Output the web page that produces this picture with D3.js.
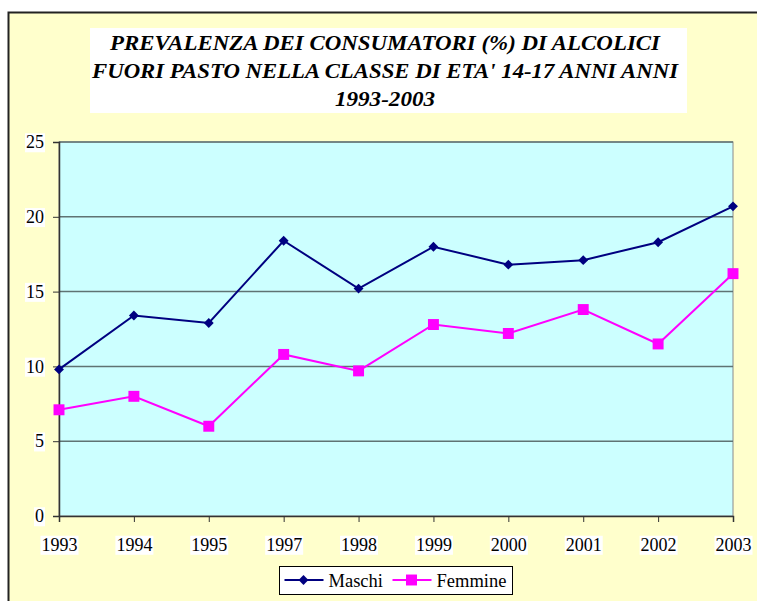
<!DOCTYPE html>
<html>
<head>
<meta charset="utf-8">
<script src="https://cdn.jsdelivr.net/npm/d3@7"></script>
<style>
  body { margin: 0; background: #fff; }
</style>
</head>
<body>
<script>
// Chart data
const years = ["1993", "1994", "1995", "1997", "1998", "1999", "2000", "2001", "2002", "2003"];
const maschi = [9.8, 13.4, 12.9, 18.4, 15.2, 18.0, 16.8, 17.1, 18.3, 20.7];
const femmine = [7.1, 8.0, 6.0, 10.8, 9.7, 12.8, 12.2, 13.8, 11.5, 16.2];
const yTicks = [0, 5, 10, 15, 20, 25];
const titleLines = [
  "PREVALENZA DEI CONSUMATORI (%) DI ALCOLICI",
  "FUORI PASTO NELLA CLASSE DI ETA' 14-17 ANNI ANNI",
  "1993-2003"
];
const titleWidths = [550, 586, 100];

const FONT = "'Liberation Serif', 'Times New Roman', serif";
const W = 757, H = 601;
const margin = { top: 142, left: 59, right: 24, bottom: 85 };
const width = W - margin.left - margin.right;
const height = H - margin.top - margin.bottom;

const svg = d3.select("body").append("svg")
  .attr("width", W)
  .attr("height", H);

// Outer chart area
svg.append("rect")
  .attr("x", 8.5).attr("y", 12.5)
  .attr("width", W).attr("height", H)
  .attr("fill", "#ffffcc")
  .attr("stroke", "#222")
  .attr("stroke-width", 2);

// Title box
svg.append("rect")
  .attr("x", 90).attr("y", 28)
  .attr("width", 597).attr("height", 85)
  .attr("fill", "#fff");

svg.append("g").selectAll("text")
  .data(titleLines)
  .join("text")
  .attr("x", 385)
  .attr("y", (d, i) => 50 + i * 28)
  .attr("text-anchor", "middle")
  .attr("textLength", (d, i) => titleWidths[i])
  .attr("lengthAdjust", "spacingAndGlyphs")
  .style("font-family", FONT)
  .style("font-size", "20.5px")
  .style("font-weight", "bold")
  .style("font-style", "italic")
  .text(d => d);

const g = svg.append("g")
  .attr("transform", `translate(${margin.left},${margin.top})`);

// Scales
const x = d3.scalePoint().domain(years).range([0, width]);
const y = d3.scaleLinear().domain([0, 25]).range([height, 0]);

// Plot background
g.append("rect")
  .attr("width", width).attr("height", height)
  .attr("fill", "#ccffff")
  .attr("stroke", "#8a8a8a");

// Gridlines
g.append("g").selectAll("line")
  .data(yTicks.filter(d => d > 0))
  .join("line")
  .attr("x1", 0).attr("x2", width)
  .attr("y1", d => y(d)).attr("y2", d => y(d))
  .attr("stroke", "#5f7373")
  .attr("stroke-width", 1.5);

// Axes
const yAxis = g.append("g")
  .call(d3.axisLeft(y).tickValues(yTicks).tickSize(6).tickPadding(9));
const xAxis = g.append("g")
  .attr("transform", `translate(0,${height})`)
  .call(d3.axisBottom(x).tickSize(6).tickPadding(16));

[yAxis, xAxis].forEach(ax => {
  ax.select(".domain").attr("stroke", "#333").attr("stroke-width", 1.5);
  ax.selectAll(".tick line").attr("stroke", "#333");
  ax.selectAll(".tick text")
    .attr("fill", "#000")
    .style("font-family", FONT)
    .style("font-size", "18px");
  // white label backgrounds
  ax.selectAll(".tick").each(function () {
    const b = d3.select(this).select("text").node().getBBox();
    d3.select(this).insert("rect", "text")
      .attr("x", b.x - 1).attr("y", b.y + 1)
      .attr("width", b.width + 2).attr("height", b.height - 1)
      .attr("fill", "#fff");
  });
});

const line = d3.line().x((d, i) => x(years[i])).y(d => y(d));

const series = [
  { name: "Maschi", values: maschi, color: "#000080", shape: d3.symbolDiamond2, size: 62 },
  { name: "Femmine", values: femmine, color: "#ff00ff", shape: d3.symbolSquare, size: 120 }
];

series.forEach(s => {
  g.append("path")
    .datum(s.values)
    .attr("d", line)
    .attr("fill", "none")
    .attr("stroke", s.color)
    .attr("stroke-width", 2);
  g.append("g").selectAll("path")
    .data(s.values)
    .join("path")
    .attr("transform", (d, i) => `translate(${x(years[i])},${y(d)})`)
    .attr("d", d3.symbol().type(s.shape).size(s.size))
    .attr("fill", s.color);
});

// Legend
const leg = svg.append("g").attr("transform", "translate(279.5,566.5)");
leg.append("rect")
  .attr("width", 233).attr("height", 28)
  .attr("fill", "#fff")
  .attr("stroke", "#000");
const legX = [5, 113];
series.forEach((s, i) => {
  const lg = leg.append("g").attr("transform", `translate(${legX[i]},13.5)`);
  lg.append("line").attr("x1", 0).attr("x2", 39)
    .attr("stroke", s.color).attr("stroke-width", 2);
  lg.append("path")
    .attr("transform", "translate(19,0)")
    .attr("d", d3.symbol().type(s.shape).size(s.size))
    .attr("fill", s.color);
  lg.append("text")
    .attr("x", 44).attr("y", 6.5)
    .style("font-family", FONT)
    .style("font-size", "18.5px")
    .text(s.name);
});
</script>
</body>
</html>
